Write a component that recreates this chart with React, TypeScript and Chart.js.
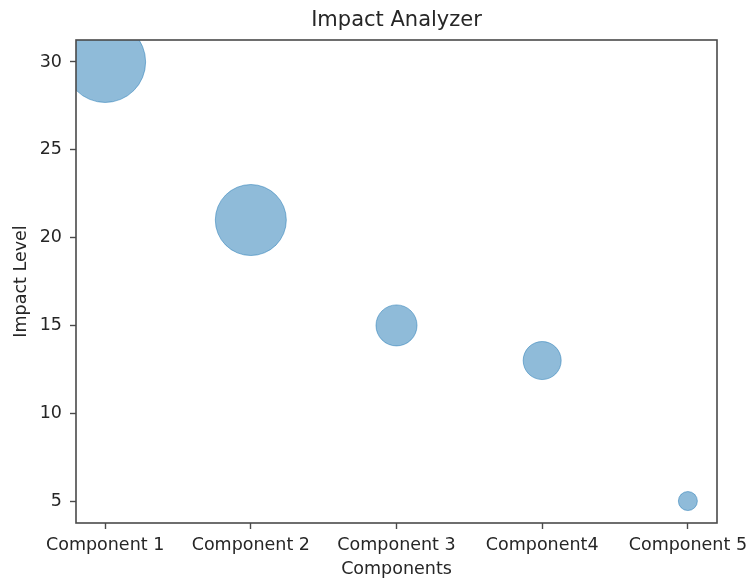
import React, { useEffect, useRef } from "react";
import { Chart, registerables } from "chart.js";

Chart.register(...registerables);

const categories = ["Component 1", "Component 2", "Component 3", "Component4", "Component 5"];
const impactLevels = [30, 21, 15, 13, 5];
const bubbleRadii = [40.5, 35.5, 20.5, 19, 9.5];
const yTicks = [5, 10, 15, 20, 25, 30];
const chartTitle = "Impact Analyzer";
const xTitle = "Components";
const yTitle = "Impact Level";

const FONT = "'DejaVu Sans', sans-serif";
const TEXT = "#262626";
const AXIS = "#4a4a4a";

const framePlugin = {
  id: "frame",
  beforeDatasetsDraw(chart: any) {
    const { ctx, chartArea: a } = chart;
    ctx.save();
    ctx.beginPath();
    ctx.rect(a.left, a.top, a.right - a.left, a.bottom - a.top);
    ctx.clip();
  },
  afterDatasetsDraw(chart: any) {
    const { ctx, chartArea: a } = chart;
    ctx.restore();
    ctx.save();
    ctx.strokeStyle = AXIS;
    ctx.lineWidth = 1.6;
    ctx.strokeRect(a.left, a.top, a.right - a.left, a.bottom - a.top);
    ctx.restore();
  },
};

export default function App() {
  const ref = useRef<HTMLCanvasElement | null>(null);

  useEffect(() => {
    if (!ref.current) return;
    const data = categories.map((_, i) => ({ x: i, y: impactLevels[i], r: bubbleRadii[i] }));
    const chart = new Chart(ref.current, {
      type: "bubble",
      data: {
        datasets: [
          {
            data,
            backgroundColor: "rgba(31,119,180,0.5)",
            borderColor: "rgba(31,119,180,0.5)",
            borderWidth: 1,
            clip: false,
          } as any,
        ],
      },
      plugins: [framePlugin],
      options: {
        animation: false,
        responsive: false,
        events: [],
        layout: { autoPadding: false, padding: { left: 0, right: 33, top: 0, bottom: 0 } },
        plugins: {
          legend: { display: false },
          tooltip: { enabled: false },
          title: {
            display: true,
            fullSize: false,
            text: chartTitle,
            color: TEXT,
            font: { family: FONT, size: 21, weight: "normal" },
            padding: { top: 8, bottom: 6.8 },
          },
        },
        scales: {
          x: {
            type: "linear",
            min: -0.2,
            max: 4.2,
            afterBuildTicks: (s: any) => {
              s.ticks = categories.map((_, i) => ({ value: i }));
            },
            afterFit: (s: any) => {
              s.height = 57;
              s.paddingLeft = 0;
              s.paddingRight = 0;
            },
            grid: {
              display: true,
              drawOnChartArea: false,
              drawTicks: true,
              tickLength: 6,
              tickWidth: 1.4,
              tickColor: AXIS,
              color: AXIS,
            },
            border: { display: false },
            ticks: {
              autoSkip: false,
              maxRotation: 0,
              minRotation: 0,
              padding: 6,
              color: TEXT,
              font: { family: FONT, size: 17.5 },
              callback: (v: any) => categories[Math.round(Number(v))] ?? "",
            },
            title: {
              display: true,
              text: xTitle,
              color: TEXT,
              font: { family: FONT, size: 17.5 },
              padding: { top: 0, bottom: 0 },
            },
          },
          y: {
            type: "linear",
            min: 3.75,
            max: 31.25,
            afterBuildTicks: (s: any) => {
              s.ticks = yTicks.map((v) => ({ value: v }));
            },
            afterFit: (s: any) => {
              s.width = 76;
              s.paddingTop = 0;
              s.paddingBottom = 0;
            },
            grid: {
              display: true,
              drawOnChartArea: false,
              drawTicks: true,
              tickLength: 6,
              tickWidth: 1.4,
              tickColor: AXIS,
              color: AXIS,
            },
            border: { display: false },
            ticks: {
              padding: 8,
              color: TEXT,
              font: { family: FONT, size: 17.5 },
            },
            title: {
              display: true,
              text: yTitle,
              color: TEXT,
              font: { family: FONT, size: 17.5 },
              padding: { top: 11, bottom: 0 },
            },
          },
        },
      } as any,
    });
    return () => chart.destroy();
  }, []);

  return (
    <div style={{ position: "fixed", left: 0, top: 0, width: 750, height: 580, background: "#fff" }}>
      <canvas ref={ref} width={750} height={580} style={{ width: 750, height: 580, display: "block" }} />
    </div>
  );
}
